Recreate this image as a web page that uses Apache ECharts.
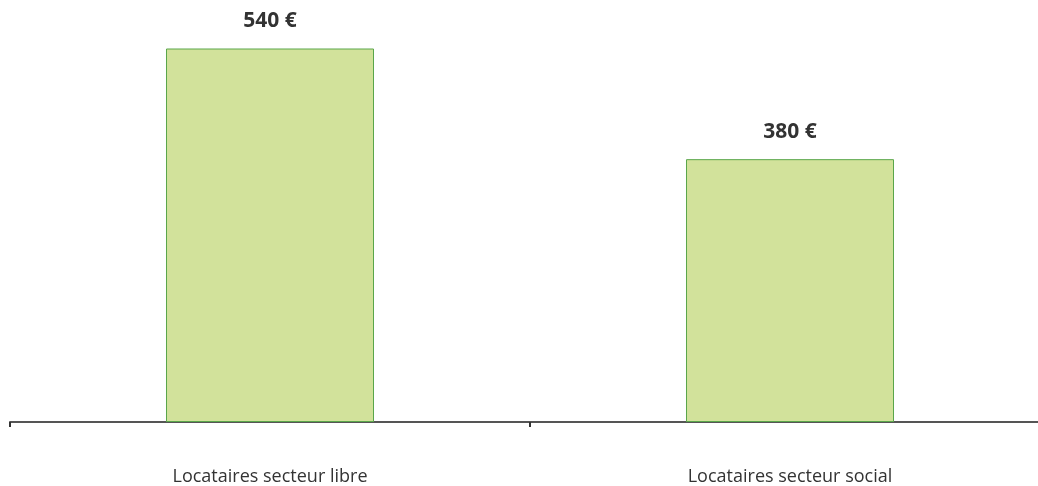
<!DOCTYPE html>
<html><head><meta charset="utf-8">
<script src="https://cdn.jsdelivr.net/npm/echarts@6/dist/echarts.min.js"></script>
<style>html,body{margin:0;padding:0;background:#fff;overflow:hidden}#c{width:1050px;height:486px}</style>
</head><body><div id="c"></div>
<script>
const categories = ['Locataires secteur libre', 'Locataires secteur social'];
const values = [540, 380];
const chart = echarts.init(document.getElementById('c'));
chart.setOption({
  animation: false,
  grid: {left: 10, right: 0, top: 7, bottom: 63, containLabel: false},
  xAxis: {
    type: 'category', data: categories,
    axisLine: {lineStyle: {color: '#555', width: 2}},
    axisTick: {show: true, alignWithLabel: false, length: 5, lineStyle: {color: '#333', width: 2}},
    axisLabel: {margin: 46, color: '#333', fontSize: 18, fontFamily: 'Open Sans'}
  },
  yAxis: {type: 'value', min: 0, max: 600, show: false, splitLine: {show: false}},
  series: [{
    type: 'bar', data: values, barWidth: '40%',
    itemStyle: {color: '#d2e29b', borderColor: '#5aa64a', borderWidth: 1},
    label: {show: true, position: 'top', distance: 17, formatter: '{c} €',
      color: '#333', fontWeight: 'bold', fontSize: 21, fontFamily: 'Open Sans'}
  }]
});
</script></body></html>
